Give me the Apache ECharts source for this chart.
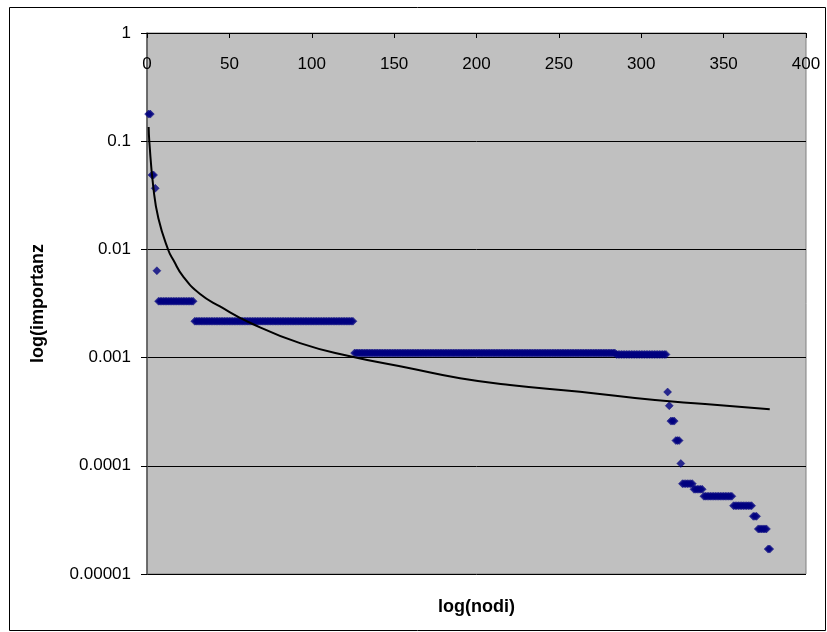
<!DOCTYPE html>
<html>
<head>
<meta charset="utf-8">
<script src="https://cdn.jsdelivr.net/npm/echarts@6/dist/echarts.min.js"></script>
<style>
html,body{margin:0;padding:0;background:#fff;}
#chart{width:827px;height:632px;}
</style>
</head>
<body>
<div id="chart"></div>
<script>
// Scatter data as runs of equal value (node index ranges)
const levelStart = [1, 3, 5, 6, 7, 29, 126, 285, 316, 317, 318, 321, 324, 325, 332, 338, 356, 368, 371, 377];
const levelEnd   = [2, 4, 5, 6, 28, 125, 284, 315, 316, 317, 320, 323, 324, 331, 337, 355, 367, 370, 376, 378];
const levelValue = [0.178, 0.0487, 0.0367, 0.00635, 0.00332, 0.00217, 0.00110, 0.00107, 0.000481, 0.000359,
                    0.000259, 0.000171, 0.000105, 0.0000684, 0.0000607, 0.0000523, 0.0000428, 0.0000341, 0.0000261, 0.000017];

// Trend line
const trendX = [1, 1.4, 3.8, 6.9, 12.9, 16, 22, 32.2, 44.3, 62.5, 92.9, 123.2, 159.6, 190, 220.3, 262.8, 308.3, 338.7, 378];
const trendY = [0.135, 0.0998, 0.038, 0.0194, 0.00987, 0.00798, 0.0056, 0.00387, 0.00297, 0.0021, 0.00136, 0.00103,
                0.000797, 0.000644, 0.000558, 0.000484, 0.000405, 0.000373, 0.000333];

const yTickLabels = ['1', '0.1', '0.01', '0.001', '0.0001', '0.00001'];
const xAxisName = 'log(nodi)';
const yAxisName = 'log(importanz';

const scatterData = [];
for (let i = 0; i < levelValue.length; i++) {
  for (let x = levelStart[i]; x <= levelEnd[i]; x++) scatterData.push([x, levelValue[i]]);
}
const trendData = trendX.map((x, i) => [x, trendY[i]]);

const chart = echarts.init(document.getElementById('chart'), null, {renderer: 'canvas'});
const tickFont = {fontFamily: 'Liberation Sans', fontSize: 17, color: '#000'};
chart.setOption({
  animation: false,
  backgroundColor: '#fff',
  grid: {
    left: 147, right: 21, top: 33, bottom: 58,
    show: true, backgroundColor: '#c0c0c0', borderColor: '#808080', borderWidth: 1
  },
  xAxis: {
    type: 'value', position: 'top', min: 0, max: 400, interval: 50,
    axisLine: {show: true, onZero: false, lineStyle: {color: '#000', width: 1}},
    axisTick: {show: true, inside: true, length: 5, lineStyle: {color: '#000'}},
    axisLabel: Object.assign({inside: true, margin: 20, padding: [3, 0, 0, 0]}, tickFont),
    splitLine: {show: false}
  },
  yAxis: {
    type: 'log', logBase: 10, min: 0.00001, max: 1,
    name: yAxisName, nameLocation: 'middle', nameGap: 100, nameRotate: 90,
    nameTextStyle: {fontFamily: 'Liberation Sans', fontWeight: 'bold', fontSize: 18, color: '#000'},
    axisLine: {show: true, onZero: false, lineStyle: {color: '#555', width: 1.5}},
    axisTick: {show: true, inside: false, length: 6, lineStyle: {color: '#000'}},
    axisLabel: Object.assign({margin: 16, formatter: function (v) {
      const idx = Math.round(-Math.log10(v));
      return yTickLabels[idx] !== undefined ? yTickLabels[idx] : '';
    }}, tickFont),
    splitLine: {show: true, lineStyle: {color: '#000', width: 1}},
    minorTick: {show: false}
  },
  series: [
    {
      type: 'scatter', data: scatterData, symbol: 'diamond', symbolSize: [8, 8],
      itemStyle: {color: '#000080', borderColor: '#000080', borderWidth: 0.5}, z: 2
    },
    {
      type: 'line', data: trendData, smooth: true, showSymbol: false, symbol: 'none',
      lineStyle: {color: '#000', width: 2}, z: 3
    }
  ],
  graphic: [
    {type: 'rect', shape: {x: 9.5, y: 7.5, width: 816, height: 623}, style: {fill: 'none', stroke: '#000', lineWidth: 1}, silent: true},
    {type: 'text', x: 476.5, y: 607, style: {text: xAxisName, font: 'bold 18px "Liberation Sans"', fill: '#000', textAlign: 'center', textVerticalAlign: 'middle'}}
  ]
});
</script>
</body>
</html>
